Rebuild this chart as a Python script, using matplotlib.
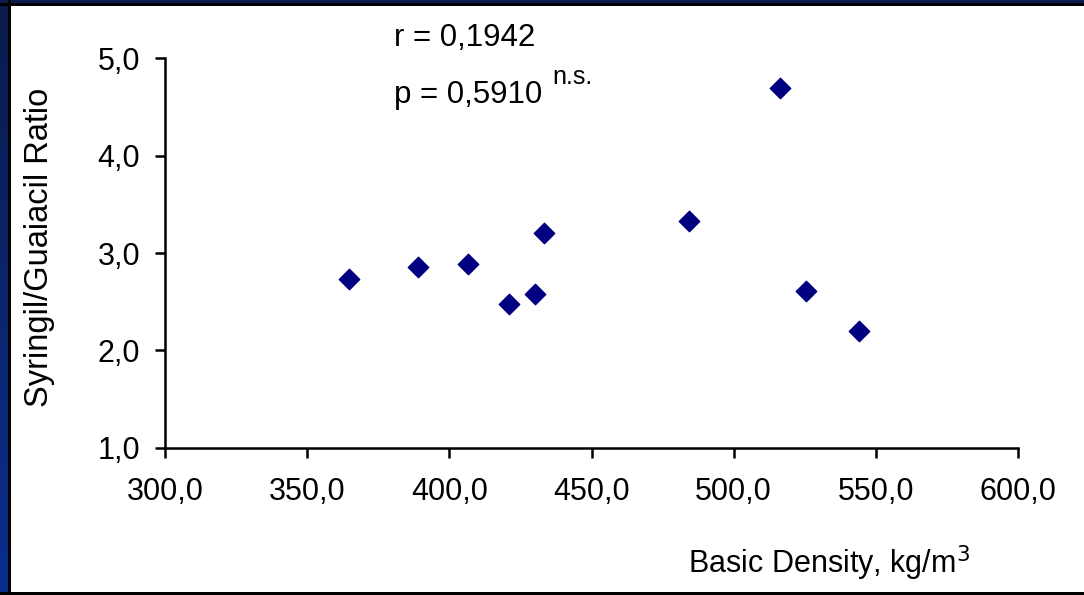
import numpy as np
import matplotlib.pyplot as plt
from matplotlib.ticker import FuncFormatter
from matplotlib.patches import Rectangle

plt.rcParams['font.family'] = ['Liberation Sans', 'DejaVu Sans']

# Basic density (kg/m3) vs S/G ratio
density = [364.6, 389.1, 406.5, 421.0, 430.0, 433.2, 484.4, 516.2, 525.4, 544.0]
sg_ratio = [2.73, 2.86, 2.89, 2.48, 2.58, 3.21, 3.33, 4.69, 2.61, 2.20]

x_ticks = [300, 350, 400, 450, 500, 550, 600]
y_ticks = [1, 2, 3, 4, 5]

r_text = 'r = 0,1942'
p_text = 'p = 0,5910'

fig = plt.figure(figsize=(10.84, 5.95), dpi=100, facecolor='white')

# slide frame: dark band on top, blue gradient strip on the left, black edges
W, H = 1084, 595
fig.patches.append(Rectangle((0, 1 - 3 / H), 1, 3 / H, transform=fig.transFigure,
                             facecolor='#0b1c4c', edgecolor='none', zorder=0))
fig.patches.append(Rectangle((0, 1 - 6 / H), 1, 3 / H, transform=fig.transFigure,
                             facecolor='black', edgecolor='none', zorder=0))
fig.patches.append(Rectangle((8 / W, 0), 2.5 / W, 1, transform=fig.transFigure,
                             facecolor='black', edgecolor='none', zorder=0))
fig.patches.append(Rectangle((0, 0), 1, 3.5 / H, transform=fig.transFigure,
                             facecolor='black', edgecolor='none', zorder=0))
strip = fig.add_axes([0, 0, 8 / W, 1])
grad = np.linspace(0, 1, 256).reshape(-1, 1)
top_c = np.array([0x0b, 0x1c, 0x4c]) / 255
bot_c = np.array([0x0a, 0x2e, 0x8e]) / 255
img = top_c[None, None, :] * (1 - grad[:, :, None]) + bot_c[None, None, :] * grad[:, :, None]
strip.imshow(img, aspect='auto', extent=[0, 1, 0, 1], origin='upper')
strip.axis('off')

ax = fig.add_axes([165 / W, 1 - 447.7 / H, 853 / W, 389.4 / H])
ax.scatter(density, sg_ratio, marker='D', s=108, color='#000080', zorder=3)

ax.set_xlim(300, 600)
ax.set_ylim(1, 5)
ax.set_xticks(x_ticks)
ax.set_yticks(y_ticks)
comma = FuncFormatter(lambda v, pos: f'{v:.1f}'.replace('.', ','))
ax.xaxis.set_major_formatter(comma)
ax.yaxis.set_major_formatter(comma)

for side in ('top', 'right'):
    ax.spines[side].set_visible(False)
for side in ('left', 'bottom'):
    ax.spines[side].set_linewidth(1.8)
ax.tick_params(axis='both', direction='out', length=7, width=1.8, labelsize=22)
ax.tick_params(axis='x', pad=14)
ax.tick_params(axis='y', pad=11)

fig.text(40 / W, 1 - 247 / H, 'Syringil/Guaiacil Ratio', rotation=90,
         ha='center', va='center', fontsize=23.5)
fig.text(970 / W, 1 - 563 / H, 'Basic Density, kg/m$^3$', ha='right', va='center',
         fontsize=22)

fig.text(394 / W, 1 - 46 / H, r_text, ha='left', va='baseline', fontsize=22.5)
fig.text(394 / W, 1 - 103 / H, p_text, ha='left', va='baseline', fontsize=22.5)
fig.text(552 / W, 1 - 84 / H, 'n.s.', ha='left', va='baseline', fontsize=18)

fig.savefig('out.png', dpi=100, facecolor=fig.get_facecolor())
